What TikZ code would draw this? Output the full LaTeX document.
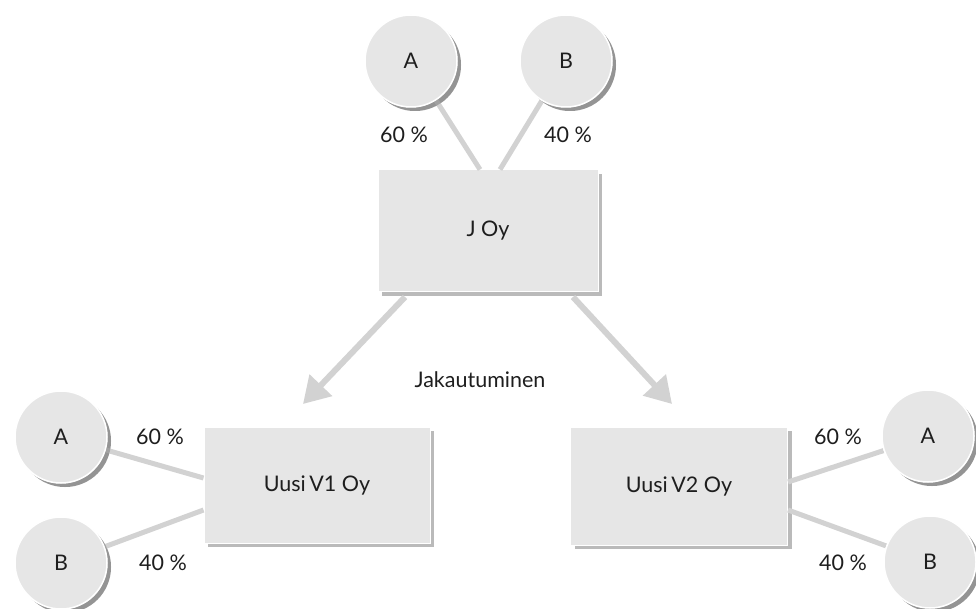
\documentclass[tikz,border=0pt]{standalone}
\usepackage{fontspec}
\setmainfont{Lato}
\usetikzlibrary{shadows,arrows.meta}
\definecolor{boxfill}{HTML}{E6E6E6}
\definecolor{linkgray}{HTML}{D2D2D2}
\definecolor{inkdark}{HTML}{1E1E1E}
\begin{document}
\begin{tikzpicture}[x=1pt,y=-1pt,
  every node/.style={text=inkdark,font=\fontsize{21.5}{24}\selectfont},
  shade/.style={drop shadow={shadow xshift=4pt,shadow yshift=-4pt,opacity=0.45,fill=black!60}},
  owner/.style={circle,fill=boxfill,draw=white,line width=1.5pt,minimum size=92pt,inner sep=0pt,shade},
  company/.style={rectangle,fill=boxfill,draw=white,line width=1pt,inner sep=0pt,shade},
  link/.style={draw=linkgray,line width=5pt},
  split/.style={draw=linkgray,line width=6pt,-{Triangle[width=30pt,length=26pt]}},
  pct/.style={inner sep=0pt}]
\useasboundingbox (0,0) rectangle (976,609);
\fill[white] (0,0) rectangle (976,609);

% parent company and its owners
\node[company,minimum width=220pt,minimum height=122pt] (J) at (488,231) {J Oy};
\node[owner] (tA) at (411,61) {A};
\node[owner] (tB) at (566,61) {B};
\draw[link] (tA) -- ([xshift=-8pt]J.north);
\draw[link] (tB) -- ([xshift=12pt]J.north);
\node[owner] at (tA) {A};
\node[owner] at (tB) {B};
\node[pct] (tpA) at (404,135) {60 \%};
\node[pct] (tpB) at (568,135) {40 \%};

% the split
\coordinate (sL) at (405,297);
\coordinate (eL) at (303,404);
\coordinate (sR) at (573,297);
\coordinate (eR) at (672,404);
\draw[split] (sL) -- (eL);
\draw[split] (sR) -- (eR);
\node (jak) at (480,380) {Jakautuminen};

% new company V1
\node[company,minimum width=226pt,minimum height=116pt] (V1) at (317,485) {Uusi\,V1 Oy};
\node[owner] (lA) at (61,437) {A};
\node[owner] (lB) at (61,563) {B};
\draw[link] (lA) -- ([yshift=7pt]V1.west);
\draw[link] (lB) -- ([yshift=-25pt]V1.west);
\node[owner] at (lA) {A};
\node[owner] at (lB) {B};
\node[pct] (lpA) at (160,437) {60 \%};
\node[pct] (lpB) at (163,563) {40 \%};

% new company V2
\node[company,minimum width=217pt,minimum height=118pt] (V2) at (679,486) {Uusi\,V2 Oy};
\node[owner] (rA) at (928,436) {A};
\node[owner] (rB) at (930,562) {B};
\draw[link] ([yshift=4pt]V2.east) -- (rA);
\draw[link] ([yshift=-24pt]V2.east) -- (rB);
\node[owner] at (rA) {A};
\node[owner] at (rB) {B};
\node[pct] (rpA) at (838,437) {60 \%};
\node[pct] (rpB) at (843,563) {40 \%};
\end{tikzpicture}
\end{document}
